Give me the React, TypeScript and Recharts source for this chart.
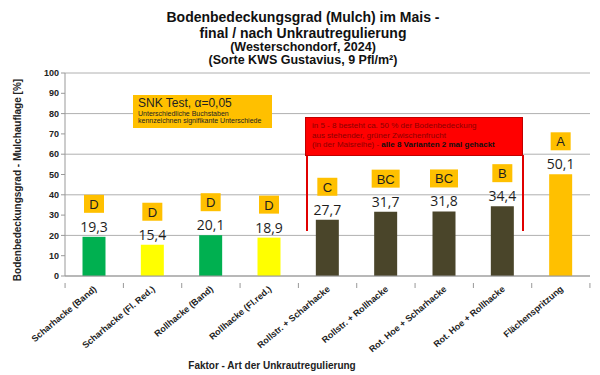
import { BarChart, Bar, XAxis, YAxis, CartesianGrid, Cell, LabelList } from 'recharts';

const categories = [
  'Scharhacke (Band)',
  'Scharhacke (Fl. Red.)',
  'Rollhacke (Band)',
  'Rollhacke (Fl.red.)',
  'Rollstr. + Scharhacke',
  'Rollstr. + Rollhacke',
  'Rot. Hoe + Scharhacke',
  'Rot. Hoe + Rollhacke',
  'Flächenspritzung',
];
const coverage = [19.3, 15.4, 20.1, 18.9, 27.7, 31.7, 31.8, 34.4, 50.1];
const snkLetters = ['D', 'D', 'D', 'D', 'C', 'BC', 'BC', 'B', 'A'];
const yTicks = [0, 10, 20, 30, 40, 50, 60, 70, 80, 90, 100];

const barColors = [
  '#00b050', '#ffff00', '#00b050', '#ffff00',
  '#4a452a', '#4a452a', '#4a452a', '#4a452a', '#ffc000',
];

const data = categories.map((name, i) => ({ name, value: coverage[i], letter: snkLetters[i] }));

const FONT = '"Liberation Sans", Arial, sans-serif';
const HALF_BAND = 29.1;

function BarLabel(props: any) {
  const { x, y, width, index, value } = props;
  const cx = Number(x) + Number(width) / 2;
  const top = Number(y);
  const letter = snkLetters[index];
  const boxW = letter.length > 1 ? 28 : 20;
  return (
    <g>
      <text x={cx} y={top - 5} textAnchor="middle" fontSize={14} fill="#1e1e1e" fontFamily='"Open Sans", sans-serif'>
        {String(value).replace('.', ',')}
      </text>
      <rect x={cx - boxW / 2} y={top - 42} width={boxW} height={18} fill="#ffc000" />
      <text x={cx} y={top - 28} textAnchor="middle" fontSize={13} fill="#1e1e1e" fontFamily={FONT}>
        {letter}
      </text>
    </g>
  );
}

function XTick(props: any) {
  const { x, y, payload, index } = props;
  const tx = x + 3;
  const ty = y + 6;
  return (
    <g>
      <line x1={x - HALF_BAND} y1={y - 1} x2={x - HALF_BAND} y2={y + 4} stroke="#999" />
      {index === categories.length - 1 && (
        <line x1={x + HALF_BAND} y1={y - 1} x2={x + HALF_BAND} y2={y + 4} stroke="#999" />
      )}
      <text
        x={tx}
        y={ty}
        transform={`rotate(-40 ${tx} ${ty})`}
        textAnchor="end"
        fontSize={9}
        fontWeight="bold"
        fill="#222"
        fontFamily={FONT}
      >
        {payload.value}
      </text>
    </g>
  );
}

export default function App() {
  return (
    <div style={{ position: 'relative', width: 600, height: 375, background: '#fff', fontFamily: FONT }}>
      <style>{`body{margin:0}`}</style>
      <BarChart
        width={600}
        height={375}
        data={data}
        margin={{ top: 73, right: 10, bottom: 69, left: 0 }}
        barCategoryGap="30%"
        style={{ position: 'absolute', left: 0, top: 0 }}
      >
        <CartesianGrid vertical={false} stroke="#b0b0b0" />
        <XAxis
          dataKey="name"
          interval={0}
          tick={<XTick />}
          tickLine={false}
          axisLine={{ stroke: '#999' }}
        />
        <YAxis
          domain={[0, 100]}
          ticks={yTicks}
          width={65}
          tickSize={4}
          tick={{ fontSize: 9, fontWeight: 'bold', fill: '#222', fontFamily: FONT }}
          axisLine={{ stroke: '#999' }}
          tickLine={{ stroke: '#999' }}
        />
        <Bar dataKey="value" isAnimationActive={false}>
          {data.map((d, i) => (
            <Cell key={d.name} fill={barColors[i]} />
          ))}
          <LabelList dataKey="value" content={<BarLabel />} />
        </Bar>
      </BarChart>
      <svg width={600} height={375} style={{ position: 'absolute', left: 0, top: 0, pointerEvents: 'none' }}>
        <g fontFamily={FONT} fontWeight="bold" fill="#111" textAnchor="middle">
          <text x={303} y={22} fontSize={14}>Bodenbedeckungsgrad (Mulch) im Mais -</text>
          <text x={303} y={38} fontSize={14}>final / nach Unkrautregulierung</text>
          <text x={303} y={50.5} fontSize={12.5}>(Westerschondorf, 2024)</text>
          <text x={303} y={63.5} fontSize={12.5}>(Sorte KWS Gustavius, 9 Pfl/m²)</text>
        </g>
        <text
          x={0}
          y={0}
          transform="translate(21 180) rotate(-90)"
          textAnchor="middle"
          fontSize={10}
          fontWeight="bold"
          fill="#222"
          fontFamily={FONT}
        >
          Bodenbedeckungsgrad - Mulchauflage [%]
        </text>
        <text x={272} y={369} textAnchor="middle" fontSize={10} fontWeight="bold" fill="#222" fontFamily={FONT}>
          Faktor - Art der Unkrautregulierung
        </text>
        <line x1={307} y1={155} x2={307} y2={231} stroke="#e00000" strokeWidth={2} />
        <line x1={523} y1={155} x2={523} y2={231} stroke="#e00000" strokeWidth={2} />
      </svg>
      <div
        style={{
          position: 'absolute',
          left: 133,
          top: 95,
          width: 139,
          height: 33,
          background: '#ffc000',
          color: '#222',
          boxSizing: 'border-box',
          padding: '2px 5px',
          lineHeight: 1.05,
        }}
      >
        <div style={{ fontSize: 12 }}>SNK Test, α=0,05</div>
        <div style={{ fontSize: 7 }}>Unterschiedliche Buchstaben</div>
        <div style={{ fontSize: 7 }}>kennzeichnen signifikante Unterschiede</div>
      </div>
      <div
        style={{
          position: 'absolute',
          left: 305,
          top: 117,
          width: 218,
          height: 39,
          background: '#ff0000',
          border: '1px solid #c00000',
          boxSizing: 'border-box',
          padding: '3px 6px',
          fontSize: 8,
          lineHeight: 1.2,
          color: '#8b0000',
        }}
      >
        <div>in 5 - 8 besteht ca. 50 % der Bodenbedeckung</div>
        <div>aus stehender, grüner Zwischenfrucht</div>
        <div>
          (in der Maisreihe) - <b style={{ color: '#111' }}>alle 8 Varianten 2 mal gehackt</b>
        </div>
      </div>
    </div>
  );
}
